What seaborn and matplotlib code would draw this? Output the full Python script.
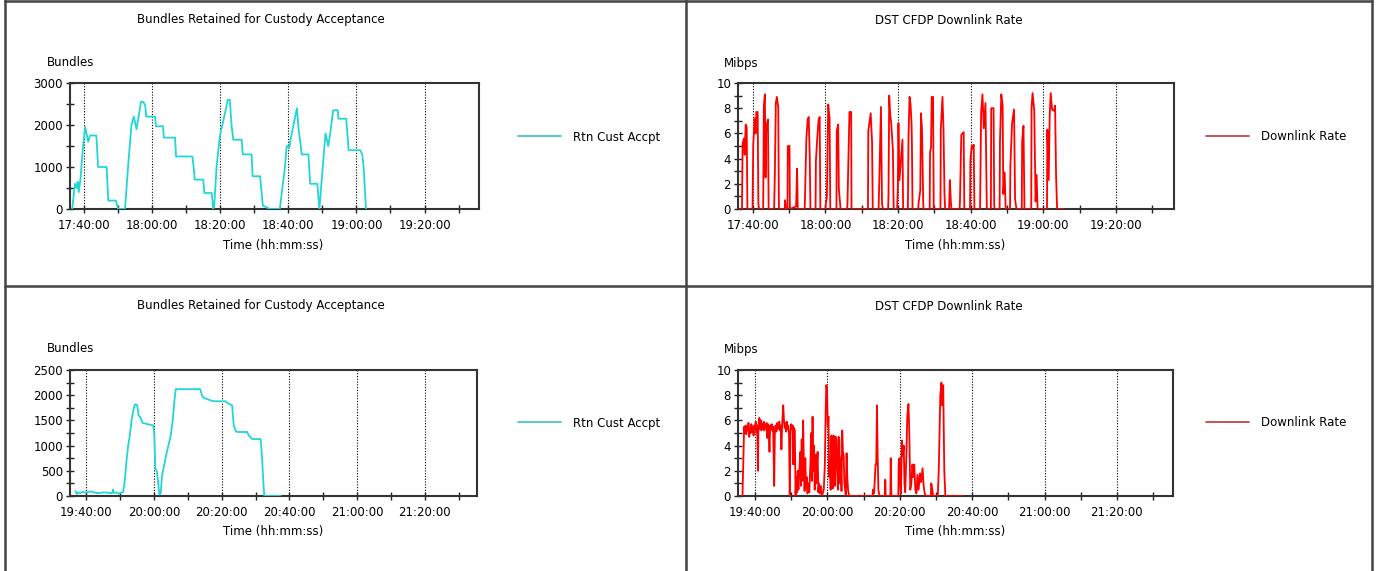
import pandas as pd
import matplotlib
matplotlib.use('Agg')
import matplotlib.pyplot as plt
from matplotlib.lines import Line2D
from matplotlib.ticker import MultipleLocator
import seaborn as sns

W, H = 1376, 571

# ── data: (minutes after the first labelled tick, value) ──────────────────
top_ticks = ['17:40:00', '18:00:00', '18:20:00', '18:40:00', '19:00:00', '19:20:00']
bot_ticks = ['19:40:00', '20:00:00', '20:20:00', '20:40:00', '21:00:00', '21:20:00']

cust_top = [(-3.5, 0), (-2.7, 600), (-2.2, 500), (-1.9, 650), (-1.6, 400), (-1.1, 700),
            (-0.3, 1500), (0.3, 1950), (0.7, 1800), (1.2, 1600), (1.7, 1750), (3.6, 1750),
            (4.1, 1000), (6.6, 1000), (7.1, 200), (9.3, 200), (10.0, 0), (12.0, 0),
            (12.9, 1000), (13.9, 2000), (14.6, 2200), (15.4, 1900), (16.0, 2200), (16.7, 2550),
            (17.4, 2550), (18.0, 2450), (18.2, 2200), (20.8, 2200), (21.1, 1970), (23.2, 1970),
            (23.4, 1700), (26.7, 1700), (27.0, 1250), (31.8, 1250), (32.1, 1050), (32.5, 700),
            (35.0, 700), (35.3, 380), (37.5, 380), (37.9, 0), (38.2, 50), (38.9, 1000),
            (39.9, 1750), (40.6, 2000), (41.7, 2400), (42.2, 2600), (42.8, 2600), (43.3, 2000),
            (43.8, 1650), (46.3, 1650), (46.6, 1300), (49.2, 1300), (49.5, 780), (51.7, 780),
            (52.5, 80), (54.6, 0), (57.5, 0), (58.0, 350), (59.0, 1000), (59.5, 1500),
            (60.3, 1450), (60.5, 1600), (61.5, 2000), (62.5, 2400), (63.0, 1900), (63.5, 1600),
            (63.9, 1300), (65.9, 1300), (66.4, 600), (68.5, 600), (69.1, 0), (70.1, 1000),
            (70.9, 1800), (71.7, 1500), (72.3, 1800), (72.9, 2200), (73.2, 2350), (74.5, 2350),
            (74.7, 2150), (77.0, 2150), (77.7, 1400), (81.1, 1400), (81.7, 1300), (82.1, 1000),
            (82.8, 0)]

rate_top = [(-3.7, 0), (-3.0, 0), (-2.83, 5.2), (-2.45, 5.6), (-2.26, 4.3), (-1.98, 6.7), (-1.70, 6.5), (-1.51, 0),
            (-0.09, 0), (0.09, 5.0), (0.47, 7.2), (0.75, 6.0), (0.94, 7.7), (1.32, 7.7), (1.51, 0.4), (1.70, 0),
            (2.83, 0), (3.02, 8.2), (3.30, 9.1), (3.49, 2.5), (3.68, 6.5), (4.15, 7.1), (4.34, 0),
            (5.85, 0), (6.04, 2.6), (6.32, 8.4), (6.60, 8.9), (6.98, 8.1), (7.17, 0),
            (8.77, 0), (8.87, 0.7), (9.06, 0),
            (9.53, 0), (9.62, 5.0), (10.09, 5.0), (10.19, 0),
            (11.90, 0.2), (12.17, 3.2), (12.36, 0),
            (14.25, 0), (14.34, 0.7), (14.72, 5.5), (15.09, 7.1), (15.38, 7.3), (15.66, 4.2), (15.85, 0),
            (17.26, 0), (17.36, 3.8), (17.74, 5.7), (18.11, 7.1), (18.40, 7.3), (18.58, 0),
            (20.00, 0), (20.10, 0.4), (20.38, 1.0), (20.75, 8.3), (21.13, 7.2), (21.32, 0),
            (23.02, 0), (23.11, 6.2), (23.49, 6.7), (23.68, 1.6), (23.96, 0.6), (24.15, 0),
            (25.94, 0), (26.04, 0.3), (26.60, 7.7), (27.08, 7.7), (27.17, 0),
            (30.10, 0), (30.19, 0.1), (30.28, 0),
            (31.70, 0), (31.79, 6.2), (32.45, 7.6), (32.83, 5.3), (33.02, 0),
            (34.62, 0), (34.81, 2.1), (35.28, 8.1), (35.57, 0.4), (35.85, 0),
            (37.26, 0), (37.36, 1.2), (37.55, 9.0), (37.83, 7.5), (38.11, 6.8), (38.58, 4.6), (38.77, 0),
            (39.72, 0), (39.91, 1.4), (40.09, 6.8), (40.37, 2.3), (40.93, 4.5), (41.20, 5.5), (41.39, 0),
            (42.69, 0), (42.87, 5.8), (43.15, 8.9), (43.43, 8.3), (43.70, 6.8), (43.80, 5.3), (43.98, 0),
            (45.56, 0), (45.65, 0.5), (46.11, 1.5), (46.30, 7.6), (46.57, 6.4), (46.94, 0.2), (47.04, 0),
            (48.70, 0), (48.80, 4.5), (49.07, 4.9), (49.26, 8.9), (49.63, 8.9), (49.81, 0),
            (51.67, 0), (51.76, 6.3), (52.22, 8.9), (52.50, 6.4), (52.78, 1.2), (52.96, 0),
            (53.98, 0), (54.07, 0.2), (54.26, 2.3), (54.54, 0.5), (54.72, 0),
            (56.94, 0), (57.04, 0.6), (57.41, 5.9), (57.87, 6.0), (58.06, 6.1), (58.24, 0),
            (59.81, 0), (59.91, 3.8), (60.28, 5.0), (60.56, 4.8), (60.83, 5.1), (61.02, 0),
            (62.50, 0), (62.59, 0.2), (62.87, 7.6), (63.24, 9.1), (63.61, 6.4), (64.07, 8.4), (64.26, 4.2), (64.44, 0),
            (65.56, 0), (65.65, 8.0), (66.30, 8.0), (66.48, 0.2), (66.67, 0),
            (67.96, 0), (68.06, 5.3), (68.43, 9.1), (68.80, 8.2), (68.98, 1.2), (69.35, 2.9), (69.63, 0),
            (70.83, 0), (70.93, 3.4), (71.39, 6.8), (71.94, 7.9), (72.22, 0.8), (72.50, 0.2), (72.69, 0),
            (74.07, 0), (74.17, 5.4), (74.54, 6.6), (74.81, 0),
            (76.67, 0), (76.76, 8.0), (77.04, 9.2), (77.50, 7.8), (77.87, 0.6), (78.15, 2.7), (78.43, 0),
            (81.02, 0), (81.11, 6.3), (81.48, 2.3), (81.76, 7.4), (82.04, 9.2), (82.41, 7.9), (82.96, 7.8),
            (83.24, 8.2), (83.52, 2.6), (83.80, 0), (85.5, 0)]

cust_bot = [(-3.17, 100), (-2.77, 40), (-2.38, 70), (-1.98, 60), (-0.99, 80), (0.0, 70), (0.99, 90),
            (1.98, 80), (2.97, 60), (3.96, 60), (4.95, 70), (5.94, 70), (6.93, 60), (7.6, 60),
            (7.92, 130), (8.1, 60), (8.91, 70), (9.7, 40), (10.1, 60), (10.89, 80), (11.39, 300),
            (11.88, 700), (12.38, 1000), (12.87, 1200), (13.37, 1500), (14.06, 1750), (14.46, 1820),
            (15.05, 1800), (15.45, 1600), (16.04, 1550), (16.63, 1450), (17.82, 1430), (19.8, 1400),
            (20.1, 1200), (20.4, 550), (20.79, 500), (21.19, 300), (21.58, 30), (21.98, 50),
            (22.38, 400), (22.97, 600), (23.56, 800), (24.26, 1000), (24.95, 1200), (25.54, 1500),
            (26.04, 1900), (26.44, 2120), (33.66, 2120), (34.16, 2000), (34.65, 1950), (36.63, 1900),
            (37.62, 1880), (41.09, 1880), (41.58, 1850), (43.07, 1800), (43.56, 1400), (44.06, 1300),
            (44.55, 1270), (47.52, 1270), (48.02, 1200), (49.01, 1130), (51.49, 1130), (51.88, 800),
            (52.28, 300), (52.57, 0), (57.43, 0)]

rate_bot = [(-3.7, 0), (-3.46, 0), (-3.2, 3.3), (-3.0, 5.5), (-2.8, 5.0), (-2.6, 5.6), (-2.4, 4.9), (-2.2, 5.5),
            (-2.0, 5.2), (-1.8, 5.8), (-1.6, 4.7), (-1.4, 5.4), (-1.2, 5.0), (-1.0, 5.7), (-0.8, 5.1),
            (-0.6, 5.5), (-0.4, 4.8), (-0.2, 5.6), (0.0, 5.3), (0.2, 5.9), (0.4, 5.0), (0.6, 5.6),
            (0.8, 2.0), (0.95, 5.4), (1.2, 6.2), (1.4, 5.3), (1.6, 6.0), (1.8, 5.2), (2.0, 5.7),
            (2.2, 5.4), (2.4, 5.9), (2.6, 5.2), (2.8, 5.6), (3.0, 5.5), (3.2, 5.8), (3.4, 4.6),
            (3.6, 5.7), (3.8, 5.1), (4.0, 3.5), (4.2, 5.6), (4.4, 5.3), (4.6, 5.7), (4.8, 5.2),
            (5.0, 5.5), (5.3, 0.8), (5.5, 5.4), (5.7, 5.6), (5.9, 5.1), (6.1, 5.8), (6.3, 5.3),
            (6.5, 5.5), (6.7, 5.9), (6.9, 5.2), (7.1, 5.6), (7.3, 3.7), (7.5, 5.7), (7.8, 7.2),
            (8.0, 6.0), (8.2, 5.4), (8.4, 5.8), (8.6, 5.1), (8.8, 5.9), (9.0, 5.3), (9.2, 5.6),
            (9.4, 4.9), (9.6, 0.0), (9.8, 5.0), (10.0, 5.7), (10.2, 5.3), (10.4, 5.6), (10.6, 2.5),
            (10.8, 5.4), (11.0, 5.2), (11.2, 0),
            (11.4, 1.5), (11.6, 0.3), (11.8, 2.0), (12.0, 0.5), (12.2, 1.8), (12.5, 3.5), (12.7, 0.8),
            (12.9, 4.5), (13.1, 1.2), (13.3, 6.0), (13.5, 2.5), (13.7, 0.4), (13.9, 3.0), (14.1, 0.6),
            (14.3, 1.5), (14.5, 0.2), (14.8, 1.0), (15.0, 0.3), (15.3, 2.5), (15.5, 5.0), (15.7, 1.2),
            (15.9, 6.3), (16.1, 2.0), (16.3, 4.0), (16.5, 0.5), (16.7, 3.3), (16.9, 1.0), (17.1, 2.5),
            (17.3, 3.5), (17.5, 0.3), (17.7, 1.0), (17.9, 0.2), (18.2, 0.8), (18.5, 0.0),
            (19.0, 0.5), (19.3, 2.5), (19.5, 6.4), (19.7, 8.8), (19.9, 8.5), (20.1, 5.5), (20.3, 6.3),
            (20.5, 1.5), (20.7, 3.0), (20.9, 0.5), (21.1, 4.8), (21.3, 2.0), (21.5, 0.6), (21.7, 4.8),
            (21.9, 3.5), (22.1, 0.8), (22.3, 4.7), (22.5, 4.5), (22.7, 2.0), (22.9, 0.5), (23.1, 4.7),
            (23.3, 4.5), (23.5, 1.0), (23.7, 3.0), (23.9, 0.4), (24.1, 5.2), (24.3, 3.5), (24.5, 3.2),
            (24.7, 1.0), (24.9, 0.5), (25.1, 0.0), (25.3, 3.4), (25.5, 1.5), (25.7, 0.5), (26.0, 0),
            (32.5, 0), (32.6, 0.5), (32.9, 0.2), (33.3, 2.5), (33.5, 2.5), (33.7, 7.2), (33.9, 3.0),
            (34.1, 0.5), (34.4, 0), (35.9, 0), (36.0, 1.3), (36.1, 0), (37.4, 0), (37.5, 3.0), (37.7, 0),
            (39.6, 0), (39.7, 2.6), (39.9, 3.0), (40.1, 1.0), (40.3, 0.2), (40.6, 4.4), (40.8, 3.2),
            (41.1, 4.0), (41.3, 1.0), (41.5, 0.3), (41.8, 3.0), (42.1, 6.5), (42.4, 7.3), (42.6, 5.5),
            (42.9, 0.5), (43.2, 1.0), (43.5, 2.5), (43.7, 1.5), (44.0, 2.5), (44.3, 0.5), (44.6, 0.2),
            (44.9, 1.7), (45.2, 0.5), (45.6, 1.8), (45.9, 1.1), (46.3, 2.2), (46.6, 0.8), (46.9, 0.2),
            (47.2, 0), (48.6, 0), (48.7, 1.0), (49.0, 0.5), (49.2, 0), (50.5, 0), (50.8, 2.3),
            (51.2, 8.0), (51.5, 9.0), (51.7, 7.2), (52.0, 8.8), (52.3, 2.0), (52.6, 0), (57.4, 0)]

# ── style ──────────────────────────
sns.set_style('white')
plt.rcParams['font.family'] = ['DejaVu Sans']
plt.rcParams['text.color'] = 'black'
FS = 8.5


def fx(px):
    return px / W


def fy(py):
    return 1 - py / H


def box(l, t, r, b):
    return [fx(l), fy(b), (r - l) / W, (b - t) / H]


panels = [
    dict(rect=box(70, 83, 479, 209), data=cust_top, ticks=top_ticks, xlim=(-4.15, 116.0),
         color='#22d6d6', lw=1.3, ymax=3000, ymaj=1000, ymin=500, dy=0,
         title='Bundles Retained for Custody Acceptance', tx=261, ylab='Bundles', ylx=47, xlx=273,
         leg='Rtn Cust Accpt', legc='#4cc4c4', lx=518),
    dict(rect=box(738, 83, 1174, 209), data=rate_top, ticks=top_ticks, xlim=(-4.1, 116.0),
         color='#ff0000', lw=1.3, ymax=10, ymaj=2, ymin=1, dy=0,
         title='DST CFDP Downlink Rate', tx=949, ylab='Mibps', ylx=724, xlx=955,
         leg='Downlink Rate', legc='#c04848', lx=1206),
    dict(rect=box(70, 370, 477, 496), data=cust_bot, ticks=bot_ticks, xlim=(-4.8, 115.4),
         color='#22d6d6', lw=1.3, ymax=2500, ymaj=500, ymin=250, dy=286,
         title='Bundles Retained for Custody Acceptance', tx=261, ylab='Bundles', ylx=47, xlx=273,
         leg='Rtn Cust Accpt', legc='#4cc4c4', lx=518),
    dict(rect=box(738, 370, 1173, 496), data=rate_bot, ticks=bot_ticks, xlim=(-4.7, 115.5),
         color='#ff0000', lw=1.3, ymax=10, ymaj=2, ymin=1, dy=286,
         title='DST CFDP Downlink Rate', tx=949, ylab='Mibps', ylx=724, xlx=955,
         leg='Downlink Rate', legc='#c04848', lx=1206),
]

fig = plt.figure(figsize=(W / 100, H / 100), dpi=100)

for p in panels:
    ax = fig.add_axes(p['rect'])
    df = pd.DataFrame(p['data'], columns=['minute', 'value'])
    sns.lineplot(data=df, x='minute', y='value', ax=ax, color=p['color'], lw=p['lw'],
                 estimator=None, legend=False, zorder=3)
    ax.set_xlim(*p['xlim'])
    ax.set_ylim(0, p['ymax'])
    ax.xaxis.set_major_locator(MultipleLocator(20))
    ax.xaxis.set_minor_locator(MultipleLocator(10))
    ax.set_xticks(range(0, 120, 20), p['ticks'])
    ax.yaxis.set_major_locator(MultipleLocator(p['ymaj']))
    ax.yaxis.set_minor_locator(MultipleLocator(p['ymin']))
    ax.tick_params(which='both', bottom=True, left=True, direction='inout', length=6,
                   color='#222', width=1, labelsize=FS, labelcolor='black', pad=2)
    ax.tick_params(axis='x', pad=4)
    ax.set_xlabel('')
    ax.set_ylabel('')
    ax.grid(axis='x', which='major', linestyle=(0, (1, 1.5)), color='black', lw=0.8)
    ax.set_axisbelow(True)
    for s in ax.spines.values():
        s.set_color('#333')
        s.set_linewidth(1.5)

    dy = p['dy']
    fig.text(fx(p['tx']), fy(20 + dy), p['title'], ha='center', va='center', fontsize=FS)
    fig.text(fx(p['ylx']), fy(63 + dy), p['ylab'], ha='left', va='center', fontsize=FS)
    fig.text(fx(p['xlx']), fy(246 + dy), 'Time (hh:mm:ss)', ha='center', va='center', fontsize=FS)
    handle = Line2D([], [], color=p['legc'], lw=1.3)
    fig.legend([handle], [p['leg']], loc='center left', bbox_to_anchor=(fx(p['lx']), fy(137 + dy)),
               frameon=False, fontsize=FS, handlelength=3.6, handletextpad=1.1,
               borderpad=0, borderaxespad=0, labelcolor='black')

# panel frames
frame = dict(color='#444', lw=1.8, transform=fig.transFigure)
for x in (5, 686, 1372):
    fig.add_artist(Line2D([fx(x), fx(x)], [0, 1], **frame))
for y in (1, 286):
    fig.add_artist(Line2D([fx(5), fx(1372)], [fy(y), fy(y)], **frame))

fig.savefig('out.png', dpi=100)
